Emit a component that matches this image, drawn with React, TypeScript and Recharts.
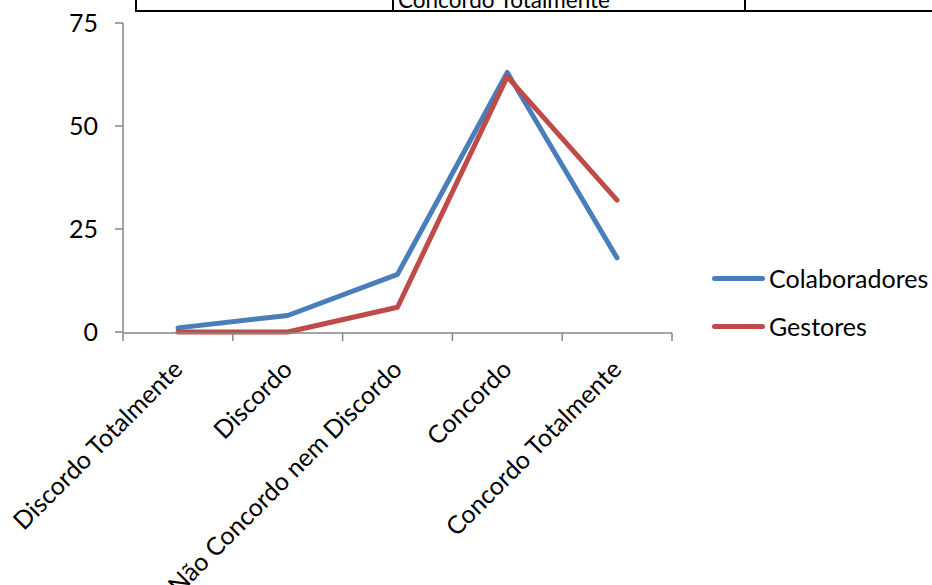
import { LineChart, Line, XAxis, YAxis, Legend } from "recharts";

const categories = [
  "Discordo Totalmente",
  "Discordo",
  "Não Concordo nem Discordo",
  "Concordo",
  "Concordo Totalmente",
];
const colaboradores = [1, 4, 14, 63, 18];
const gestores = [0, 0, 6, 62, 32];
const yTicks = [0, 25, 50, 75];
const boundaryTicks = [0, 1, 2, 3, 4, 5];

const SERIES = [
  { key: "Colaboradores", color: "#4A7EBB" },
  { key: "Gestores", color: "#BE4B48" },
];

const FONT = "Lato, 'DejaVu Sans', sans-serif";
const AXIS = "#868686";

const data = categories.map((c, i) => ({
  name: c,
  Colaboradores: colaboradores[i],
  Gestores: gestores[i],
}));

function CatTick({ x, y, payload }: { x?: number; y?: number; payload?: { value: string } }) {
  const ax = (x ?? 0) + 6;
  const ay = (y ?? 0) + 31;
  return (
    <text
      x={ax}
      y={ay}
      textAnchor="end"
      transform={`rotate(-45 ${ax} ${ay})`}
      fill="#000"
      fontSize={25}
      fontFamily={FONT}
    >
      {payload?.value}
    </text>
  );
}

function LegendBox() {
  return (
    <div style={{ fontFamily: FONT, fontSize: 25, color: "#000" }}>
      {SERIES.map((s) => (
        <div key={s.key} style={{ display: "flex", alignItems: "center", height: 48 }}>
          <span
            style={{
              display: "inline-block",
              width: 53,
              height: 5,
              borderRadius: 3,
              background: s.color,
              marginRight: 4,
            }}
          />
          <span>{s.key}</span>
        </div>
      ))}
    </div>
  );
}

export default function App() {
  return (
    <div style={{ position: "absolute", left: 0, top: 0, width: 932, height: 585, background: "#fff" }}>
      {/* pedaço da tabela acima do gráfico */}
      <div
        style={{
          position: "absolute",
          left: 135,
          top: 0,
          width: 797,
          height: 10,
          borderLeft: "2px solid #000",
          borderBottom: "2px solid #000",
          overflow: "hidden",
        }}
      >
        <div style={{ position: "absolute", left: 255, top: 0, width: 2, height: 12, background: "#000" }} />
        <div style={{ position: "absolute", left: 607, top: 0, width: 2, height: 12, background: "#000" }} />
        <span
          style={{
            position: "absolute",
            left: 261,
            top: -10,
            fontFamily: FONT,
            fontSize: 22.5,
            lineHeight: "20px",
            whiteSpace: "nowrap",
          }}
        >
          Concordo Totalmente
        </span>
      </div>
      <LineChart
        width={932}
        height={585}
        data={data}
        margin={{ top: 23, right: 260, bottom: 251, left: 63 }}
      >
        {/* eixo só para as marcas entre categorias */}
        <XAxis
          xAxisId="grid"
          type="number"
          dataKey={() => 0}
          domain={[0, categories.length]}
          allowDataOverflow
          ticks={boundaryTicks}
          interval={0}
          height={1}
          stroke={AXIS}
          strokeWidth={1.5}
          tickSize={8}
          tick={() => <g />}
        />
        <XAxis
          xAxisId="cat"
          dataKey="name"
          height={1}
          axisLine={false}
          tickLine={false}
          interval={0}
          padding={{ left: 55, right: 55 }}
          tick={<CatTick />}
        />
        <YAxis
          domain={[0, 75]}
          ticks={yTicks}
          width={60}
          stroke={AXIS}
          strokeWidth={1.5}
          tickSize={8}
          tickMargin={17}
          tick={{ fill: "#000", fontSize: 25, fontFamily: FONT }}
        />
        <Legend
          layout="vertical"
          verticalAlign="middle"
          align="center"
          content={() => <LegendBox />}
          wrapperStyle={{ left: 712, top: 254, width: 220 }}
        />
        {SERIES.map((s) => (
          <Line
            key={s.key}
            xAxisId="cat"
            dataKey={s.key}
            stroke={s.color}
            strokeWidth={5}
            strokeLinecap="round"
            strokeLinejoin="round"
            dot={false}
            activeDot={false}
            isAnimationActive={false}
          />
        ))}
      </LineChart>
    </div>
  );
}
